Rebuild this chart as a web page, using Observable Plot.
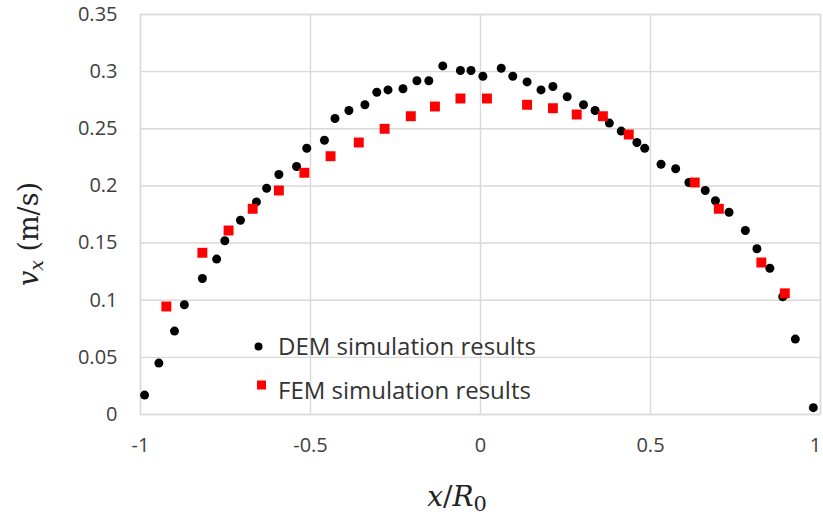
<!DOCTYPE html>
<html>
<head>
<meta charset="utf-8">
<script src="https://cdn.jsdelivr.net/npm/d3@7"></script>
<script src="https://cdn.jsdelivr.net/npm/@observablehq/plot@0.6"></script>
<style>
  html, body { margin: 0; padding: 0; background: #fff; }
  #chart { width: 823px; height: 517px; }
</style>
</head>
<body>
<div id="chart"></div>
<script>
// DEM simulation results
const demX = [-0.988,-0.946,-0.900,-0.871,-0.818,-0.776,-0.752,-0.706,-0.659,-0.629,-0.593,-0.541,-0.511,-0.459,-0.428,-0.387,-0.340,-0.305,-0.272,-0.228,-0.187,-0.152,-0.111,-0.059,-0.028,0.007,0.061,0.095,0.137,0.178,0.213,0.255,0.303,0.337,0.379,0.414,0.460,0.483,0.531,0.574,0.613,0.661,0.691,0.731,0.779,0.813,0.851,0.889,0.926,0.979];
const demY = [0.017,0.045,0.073,0.096,0.119,0.136,0.152,0.170,0.186,0.198,0.210,0.217,0.233,0.240,0.259,0.266,0.271,0.282,0.284,0.285,0.292,0.292,0.305,0.301,0.301,0.296,0.303,0.296,0.291,0.284,0.287,0.278,0.271,0.266,0.255,0.248,0.238,0.233,0.219,0.215,0.203,0.196,0.187,0.177,0.161,0.145,0.128,0.103,0.066,0.006];
// FEM simulation results
const femX = [-0.924,-0.818,-0.741,-0.670,-0.593,-0.518,-0.441,-0.358,-0.282,-0.205,-0.134,-0.059,0.019,0.137,0.213,0.283,0.360,0.436,0.630,0.701,0.826,0.895];
const femY = [0.0945,0.1415,0.161,0.180,0.196,0.2115,0.226,0.238,0.250,0.261,0.2695,0.2765,0.2765,0.271,0.268,0.2625,0.261,0.245,0.203,0.180,0.133,0.106];
// Tick labels
const xTicks = [-1,-0.5,0,0.5,1];
const yTicks = [0,0.05,0.1,0.15,0.2,0.25,0.3,0.35];
const seriesNames = ["DEM simulation results","FEM simulation results"];

const dem = demX.map((x,i) => ({x, y: demY[i]}));
const fem = femX.map((x,i) => ({x, y: femY[i]}));

const gridColor = "#d9d9d9";
const plot = Plot.plot({
  width: 823,
  height: 517,
  marginLeft: 140,
  marginRight: 3,
  marginTop: 14,
  marginBottom: 103,
  style: {fontFamily: "'Open Sans', sans-serif", fontSize: "20px", color: "#404040", background: "#fff"},
  x: {domain: [-1, 1]},
  y: {domain: [0, 0.35]},
  marks: [
    Plot.gridX(xTicks, {stroke: gridColor, strokeOpacity: 1, strokeWidth: 1.4}),
    Plot.gridY(yTicks, {stroke: gridColor, strokeOpacity: 1, strokeWidth: 1.4}),
    Plot.frame({stroke: gridColor, strokeWidth: 1.4}),
    Plot.axisX({ticks: xTicks, tickSize: 0, tickPadding: 23, tickFormat: d => String(d), label: null, fontSize: 20}),
    Plot.axisY({ticks: yTicks, tickSize: 0, tickPadding: 23, tickFormat: d => String(d), label: null, fontSize: 20}),
    Plot.dot(dem, {x: "x", y: "y", r: 4.5, fill: "black", stroke: "none"}),
    Plot.dot(fem, {x: "x", y: "y", r: 5.6, symbol: "square", fill: "#ff0000", stroke: "none"})
  ]
});
document.getElementById("chart").appendChild(plot);

const svg = d3.select(plot);

// keep the last x tick label inside the picture
svg.selectAll('g[aria-label="x-axis tick label"] text')
  .filter(function() { return this.textContent === "1"; })
  .attr("dx", -5);

// Legend
const leg = svg.append("g")
  .attr("font-family", "'Open Sans', sans-serif")
  .attr("font-size", 24)
  .attr("text-anchor", "start")
  .attr("fill", "#333");
leg.append("circle").attr("cx", 258.5).attr("cy", 346.5).attr("r", 4).attr("fill", "black");
leg.append("text").attr("x", 278).attr("y", 346.5).attr("dy", "0.35em").text(seriesNames[0]);
leg.append("rect").attr("x", 257).attr("y", 380.5).attr("width", 9).attr("height", 9).attr("fill", "#ff0000");
leg.append("text").attr("x", 278).attr("y", 391).attr("dy", "0.35em").text(seriesNames[1]);

// Axis titles
const xl = svg.append("text")
  .attr("x", 457).attr("y", 506)
  .attr("text-anchor", "middle")
  .attr("font-family", "'DejaVu Serif', serif")
  .attr("font-size", 28)
  .attr("fill", "#222");
xl.append("tspan").attr("font-style", "italic").text("x");
xl.append("tspan").text("/");
xl.append("tspan").attr("font-style", "italic").text("R");
xl.append("tspan").attr("font-size", 21).attr("dy", 5).text("0");

const yl = svg.append("text")
  .attr("transform", "translate(38,234) rotate(-90)")
  .attr("text-anchor", "middle")
  .attr("font-family", "'DejaVu Serif', serif")
  .attr("font-size", 27)
  .attr("fill", "#222");
yl.append("tspan").attr("font-style", "italic").text("v");
yl.append("tspan").attr("font-style", "italic").attr("font-size", 19).attr("dy", 5).text("x");
yl.append("tspan").attr("dy", -5).text(" (m/s)");
</script>
</body>
</html>
